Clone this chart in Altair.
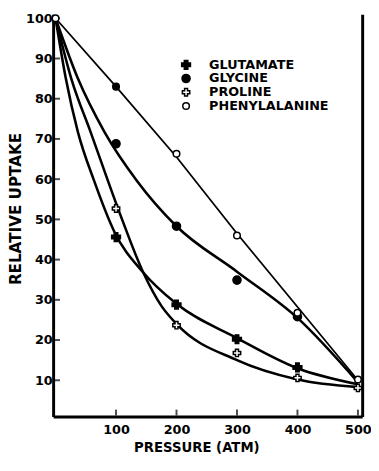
import altair as alt
import pandas as pd

series_names = ["GLUTAMATE", "GLYCINE", "PROLINE", "PHENYLALANINE"]

# measured points (pressure in atm, relative uptake)
glu_p = [100, 200, 300, 400]
glu_u = [45.6, 28.8, 20.2, 13.2]
gly_p = [100, 200, 300, 400]
gly_u = [68.8, 48.3, 34.9, 25.8]
pro_p = [100, 200, 300, 400, 500]
pro_u = [52.7, 23.7, 16.8, 10.6, 8.1]
phe_p = [0, 100, 200, 300, 400, 500]
phe_u = [100, 83, 66.3, 46, 26.8, 10.2]
phe_solid = [False, True, False, False, False, False]

# hand-drawn curves
glu_curve_p = [0, 17, 37, 64, 97, 145, 200, 300, 400, 500]
glu_curve_u = [100, 85, 71.7, 59.5, 47, 36.8, 29, 20.5, 13, 9]
pro_curve_p = [0, 26, 58, 105, 145, 175, 200, 300, 400, 500]
pro_curve_u = [100, 85, 71.7, 52, 36.8, 28.5, 24, 15, 10.2, 8.3]
gly_curve_p = [0, 37, 81, 135, 200, 300, 400, 500]
gly_curve_u = [100, 85, 71.7, 59.5, 48.3, 37, 25.5, 9.5]
phe_curve_p = [0, 100, 200, 300, 500]
phe_curve_u = [100, 83, 65.5, 46.5, 10]

x_ticks = [100, 200, 300, 400, 500]
y_ticks = [10, 20, 30, 40, 50, 60, 70, 80, 90, 100]

pts = []
for name, ps, us in [("GLUTAMATE", glu_p, glu_u), ("GLYCINE", gly_p, gly_u),
                     ("PROLINE", pro_p, pro_u)]:
    for p, u in zip(ps, us):
        pts.append({"series": name, "p": p, "u": u, "solid": False})
for p, u, s in zip(phe_p, phe_u, phe_solid):
    pts.append({"series": "PHENYLALANINE", "p": p, "u": u, "solid": s})
pts = pd.DataFrame(pts)

curves = []
for name, ps, us in [("GLUTAMATE", glu_curve_p, glu_curve_u),
                     ("GLYCINE", gly_curve_p, gly_curve_u),
                     ("PROLINE", pro_curve_p, pro_curve_u)]:
    for p, u in zip(ps, us):
        curves.append({"series": name, "p": p, "u": u})
curves = pd.DataFrame(curves)
phe_curve = pd.DataFrame({"p": phe_curve_p, "u": phe_curve_u})

W, H = 315, 410
xs = alt.Scale(domain=[-4, 507], nice=False, zero=False)
ys = alt.Scale(domain=[1, 101], nice=False, zero=False)

FONT = "DejaVu Sans"
x_enc = alt.X("p:Q", scale=xs, axis=alt.Axis(
    values=x_ticks, title="PRESSURE (ATM)", labelPadding=7, titlePadding=5,
    titleX=146, labelFont=FONT, labelFontWeight="bold", labelFontSize=13,
    labelColor="black", titleFont=FONT, titleFontWeight="bold",
    titleFontSize=13.5, titleColor="black", domainColor="black",
    domainWidth=3, ticks=False, grid=False, minExtent=0))
y_enc = alt.Y("u:Q", scale=ys, axis=alt.Axis(
    values=y_ticks, title="RELATIVE UPTAKE", labelPadding=1, titlePadding=2,
    titleY=198, labelFont=FONT, labelFontWeight="bold", labelFontSize=13,
    labelColor="black", titleFont=FONT, titleFontWeight="bold",
    titleFontSize=15.5, titleColor="black", domainColor="black",
    domainWidth=3, ticks=False, grid=False, minExtent=0))

thick = alt.Chart(curves).mark_line(
    interpolate="monotone", color="black", strokeWidth=2.6
).encode(x=x_enc, y=y_enc, detail="series:N")

thin = alt.Chart(phe_curve).mark_line(color="black", strokeWidth=1.8).encode(
    x=alt.X("p:Q", scale=xs), y=alt.Y("u:Q", scale=ys))

legend = alt.Legend(title=None, orient="none", legendX=129, legendY=45,
                    padding=0, labelFont=FONT, labelFontWeight="bold",
                    labelFontSize=13, labelColor="black", rowPadding=-2,
                    labelOffset=17, symbolStrokeWidth=1.5)

points = alt.Chart(pts).mark_point(
    filled=True, strokeWidth=1.5, opacity=1
).encode(
    x=alt.X("p:Q", scale=xs), y=alt.Y("u:Q", scale=ys),
    shape=alt.Shape("series:N", scale=alt.Scale(
        domain=series_names, range=["cross", "circle", "cross", "circle"]),
        legend=legend, sort=series_names),
    fill=alt.Fill("series:N", scale=alt.Scale(
        domain=series_names, range=["black", "black", "white", "white"]),
        legend=legend, sort=series_names),
    stroke=alt.Stroke("series:N", scale=alt.Scale(
        domain=series_names, range=["black", "black", "black", "black"]),
        legend=legend, sort=series_names),
    size=alt.Size("series:N", scale=alt.Scale(
        domain=series_names, range=[80, 45, 75, 36]),
        legend=legend, sort=series_names),
)

solid = alt.Chart(pts).transform_filter("datum.solid").mark_point(
    filled=True, shape="circle", fill="black", stroke="black",
    strokeWidth=1, size=40, opacity=1
).encode(x=alt.X("p:Q", scale=xs), y=alt.Y("u:Q", scale=ys))

ytick = alt.Chart(pd.DataFrame({"u": y_ticks})).mark_tick(
    color="black", thickness=2, size=6
).encode(y=alt.Y("u:Q", scale=ys), x=alt.value(4))

xtick = alt.Chart(pd.DataFrame({"p": x_ticks})).mark_tick(
    color="black", thickness=2, size=6
).encode(x=alt.X("p:Q", scale=xs), y=alt.value(H - 4))

main = alt.layer(thick, thin, ytick, xtick, points, solid)

right = alt.Chart(phe_curve).mark_point(opacity=0).encode(
    x=alt.X("p:Q", scale=xs),
    y=alt.Y("u:Q", scale=ys, axis=alt.Axis(
        orient="right", labels=False, ticks=False, title=None,
        domainColor="black", domainWidth=3, grid=False, minExtent=0,
        maxExtent=0)),
)

chart = alt.layer(main, right).resolve_axis(y="independent").properties(
    width=W, height=H,
    autosize=alt.AutoSizeParams(type="none"),
    padding={"left": 46, "top": 2, "right": 9, "bottom": 40},
).configure(background="white").configure_view(stroke=None)

chart.save("out.html", embed_options={"renderer": "svg", "actions": False})
